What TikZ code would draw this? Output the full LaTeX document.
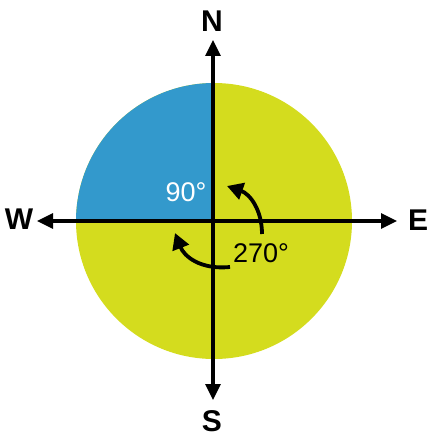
\documentclass[tikz,border=0pt]{standalone}
\usepackage{fontspec}
\setmainfont{Liberation Sans}
\usetikzlibrary{arrows.meta}
\definecolor{lime}{RGB}{212,220,30}
\definecolor{quarterblue}{RGB}{51,153,204}
\tikzset{
  axis/.style={line width=3.2pt, {Triangle[length=16pt,width=15pt]}-{Triangle[length=16pt,width=15pt]}},
  turn/.style={line width=3.8pt, -{Triangle[length=16pt,width=17pt]}},
  dirlabel/.style={font=\fontsize{30}{30}\selectfont\bfseries, inner sep=0pt},
  anglabel/.style={font=\fontsize{27}{27}\selectfont, inner sep=0pt}
}
\begin{document}
\begin{tikzpicture}[x=1pt,y=-1pt]
\useasboundingbox (0,0) rectangle (437,444);
\coordinate (c) at (214,221);
\fill[lime] (c) circle (138);
\fill[quarterblue] (c) -- ++(-138,0) arc[start angle=180,end angle=270,radius=138] -- cycle;
\coordinate (ntip) at (213,40);
\coordinate (stip) at (213,400);
\coordinate (wtip) at (37,221);
\coordinate (etip) at (397,221);
\draw[axis] (ntip) -- (stip);
\draw[axis] (wtip) -- (etip);
\node[dirlabel] (N) at (212,21) {N};
\node[dirlabel] (S) at (212,421) {S};
\node[dirlabel] (W) at (19,219) {W};
\node[dirlabel] (E) at (418,220) {E};
\node[anglabel, text=white] (a90) at (186,192) {90°};
\node[anglabel] (a270) at (261,253) {270°};
\coordinate (t1s) at (262,234);
\coordinate (t1e) at (227,186);
\coordinate (t2s) at (230,267);
\coordinate (t2e) at (175,233);
\draw[turn] (t1s) .. controls (262,210) and (250,194) .. (t1e);
\draw[turn] (t2s) .. controls (200,270) and (184,256) .. (t2e);
\end{tikzpicture}
\end{document}
